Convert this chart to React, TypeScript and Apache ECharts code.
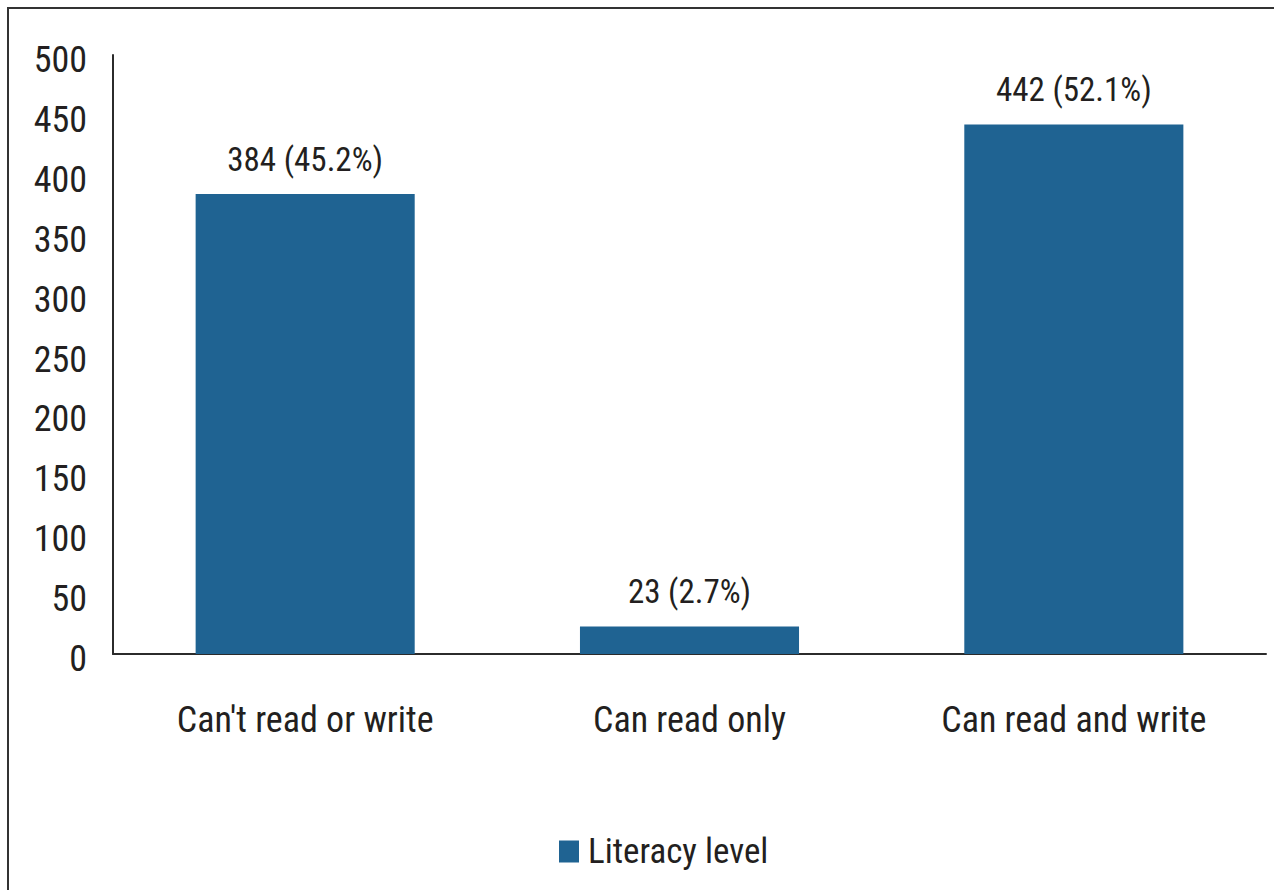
import React, { useEffect, useRef } from "react";
import * as echarts from "echarts";

const categories = ["Can't read or write", "Can read only", "Can read and write"];
const counts = [384, 23, 442];
const percents = ["45.2%", "2.7%", "52.1%"];
const seriesName = "Literacy level";

const FONT = "'Roboto Condensed', 'Carlito', 'Liberation Sans', sans-serif";
const TEXT = "#231f20";

export default function App() {
  const ref = useRef<HTMLDivElement>(null);
  useEffect(() => {
    if (!ref.current) return;
    const chart = echarts.init(ref.current, undefined, { renderer: "svg" });
    chart.setOption({
      animation: false,
      backgroundColor: "#ffffff",
      textStyle: { fontFamily: FONT },
      graphic: [
        {
          type: "rect",
          shape: { x: 8, y: 8, width: 1400, height: 1000 },
          style: { fill: "none", stroke: "#333333", lineWidth: 2 },
          silent: true,
        },
      ],
      legend: {
        left: 554,
        top: 829,
        itemWidth: 20,
        itemHeight: 22,
        icon: "rect",
        data: [seriesName],
        textStyle: { fontFamily: FONT, fontSize: 35, color: TEXT, padding: [0, 0, 0, 4] },
      },
      grid: { left: 113, top: 55, width: 1153, height: 599, containLabel: false },
      xAxis: {
        type: "category",
        data: categories,
        axisLine: { show: true, lineStyle: { color: "#2b2b2b", width: 2 } },
        axisTick: { show: false },
        axisLabel: { fontFamily: FONT, fontSize: 36, color: TEXT, margin: 48, interval: 0 },
      },
      yAxis: {
        type: "value",
        min: 0,
        max: 500,
        interval: 50,
        axisLine: { show: true, lineStyle: { color: "#2b2b2b", width: 2 } },
        axisTick: { show: false },
        splitLine: { show: false },
        axisLabel: {
          fontFamily: FONT,
          fontSize: 36,
          color: TEXT,
          margin: 26,
          verticalAlign: "top",
          lineHeight: 10,
        },
      },
      series: [
        {
          name: seriesName,
          type: "bar",
          data: counts,
          barWidth: "57%",
          itemStyle: { color: "#1f6392" },
          label: {
            show: true,
            position: "top",
            distance: 18,
            fontFamily: FONT,
            fontSize: 33,
            color: TEXT,
            formatter: (p: any) => `${counts[p.dataIndex]} (${percents[p.dataIndex]})`,
          },
        },
      ],
    });
    return () => chart.dispose();
  }, []);
  return (
    <div
      ref={ref}
      style={{ position: "fixed", left: 0, top: 0, width: 1274, height: 890, background: "#fff" }}
    />
  );
}
